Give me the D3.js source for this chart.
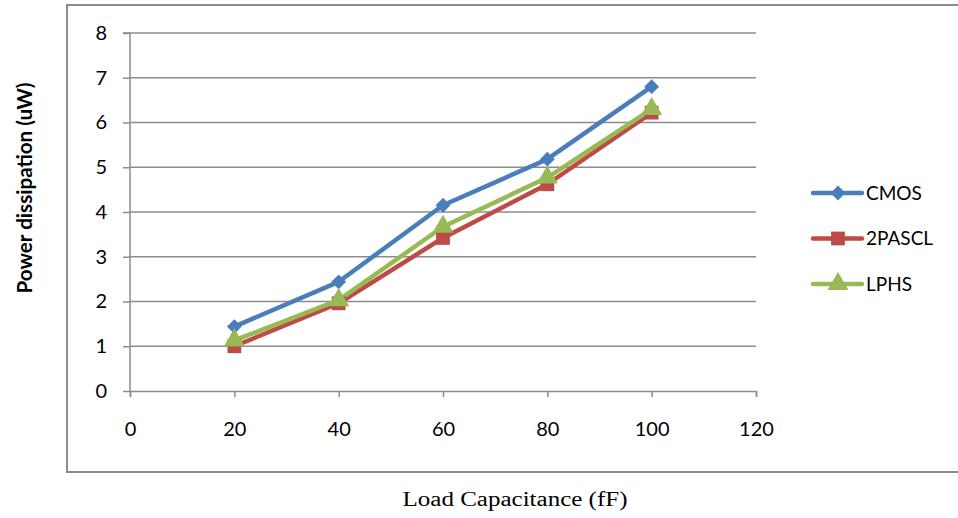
<!DOCTYPE html>
<html>
<head>
<meta charset="utf-8">
<script src="https://cdn.jsdelivr.net/npm/d3@7"></script>
<style>
  body { margin: 0; background: #fff; }
  svg { display: block; }
</style>
</head>
<body>
<svg width="958" height="518"></svg>
<script>
// data
const loads = [20, 40, 60, 80, 100];
const cmos = [1.44, 2.44, 4.15, 5.18, 6.8];
const pascl = [1.0, 1.96, 3.42, 4.62, 6.22];
const lphs = [1.13, 2.03, 3.67, 4.77, 6.3];
const yTicks = [0, 1, 2, 3, 4, 5, 6, 7, 8];
const xTicks = [0, 20, 40, 60, 80, 100, 120];

// diamond = square turned 45deg, like the Excel marker
const seriesList = [
  { name: 'CMOS', values: cmos, color: '#4A7EBB', shape: d3.symbolSquare, size: 110, rot: 45 },
  { name: '2PASCL', values: pascl, color: '#BE4B48', shape: d3.symbolSquare, size: 190, rot: 0 },
  { name: 'LPHS', values: lphs, color: '#98B954', shape: d3.symbolTriangle, size: 190, rot: 0 }
];

const svg = d3.select('svg');
const font = 'Lato, "Open Sans", sans-serif';

// outer frame
svg.append('rect')
  .attr('x', 67).attr('y', 5)
  .attr('width', 900).attr('height', 467)
  .attr('fill', 'none')
  .attr('stroke', '#8c8c8c')
  .attr('stroke-width', 2);

const x = d3.scaleLinear().domain([0, 120]).range([130, 756]);
const y = d3.scaleLinear().domain([0, 8]).range([391, 33]);

// grid
svg.append('g')
  .selectAll('line')
  .data(yTicks.slice(1))
  .enter()
  .append('line')
  .attr('x1', x(0)).attr('x2', x(120))
  .attr('y1', d => y(d)).attr('y2', d => y(d))
  .attr('stroke', '#8c8c8c')
  .attr('stroke-width', 1.5);

// axes
const yAxis = svg.append('g')
  .attr('transform', `translate(${x(0)},0)`)
  .call(d3.axisLeft(y).tickValues(yTicks).tickSize(7).tickPadding(16));

const xAxis = svg.append('g')
  .attr('transform', `translate(0,${y(0)})`)
  .call(d3.axisBottom(x).tickValues(xTicks).tickSize(6).tickSizeOuter(6).tickPadding(25));

[xAxis, yAxis].forEach(a => {
  a.select('.domain').attr('stroke', '#8c8c8c').attr('stroke-width', 1.5);
  a.selectAll('.tick line').attr('stroke', '#8c8c8c').attr('stroke-width', 1.5);
  a.selectAll('text')
    .style('font-family', font)
    .style('font-size', '20px')
    .attr('fill', '#000');
});
yAxis.select('.domain').attr('d', `M-7,${y(8)}H0V${y(0)}`);

// lines and markers
const line = d3.line()
  .x((d, i) => x(loads[i]))
  .y(d => y(d));

seriesList.forEach(s => {
  svg.append('path')
    .datum(s.values)
    .attr('d', line)
    .attr('fill', 'none')
    .attr('stroke', s.color)
    .attr('stroke-width', 4.5)
    .attr('stroke-linejoin', 'round');
});

seriesList.forEach(s => {
  svg.append('g')
    .selectAll('path')
    .data(s.values)
    .enter()
    .append('path')
    .attr('transform', (d, i) => `translate(${x(loads[i])},${y(d)}) rotate(${s.rot})`)
    .attr('d', d3.symbol().type(s.shape).size(s.size))
    .attr('fill', s.color);
});

// legend
const legend = svg.append('g');
seriesList.forEach((s, i) => {
  const ly = 193 + i * 45.5;
  legend.append('line')
    .attr('x1', 813).attr('x2', 862)
    .attr('y1', ly).attr('y2', ly)
    .attr('stroke', s.color)
    .attr('stroke-width', 4.5)
    .attr('stroke-linecap', 'round');
  legend.append('path')
    .attr('transform', `translate(838,${ly}) rotate(${s.rot})`)
    .attr('d', d3.symbol().type(s.shape).size(s.size))
    .attr('fill', s.color);
  legend.append('text')
    .attr('x', 866).attr('y', ly)
    .attr('dy', '0.35em')
    .style('font-family', font)
    .style('font-size', '19px')
    .text(s.name);
});

// axis titles
svg.append('text')
  .attr('transform', 'translate(32,188) rotate(-90)')
  .attr('text-anchor', 'middle')
  .attr('textLength', 211)
  .attr('lengthAdjust', 'spacingAndGlyphs')
  .style('font-family', font)
  .style('font-size', '20px')
  .style('font-weight', 'bold')
  .text('Power dissipation (uW)');

svg.append('text')
  .attr('x', 515).attr('y', 506)
  .attr('text-anchor', 'middle')
  .attr('textLength', 225)
  .attr('lengthAdjust', 'spacingAndGlyphs')
  .style('font-family', '"Liberation Serif", "Times New Roman", serif')
  .style('font-size', '20px')
  .text('Load Capacitance (fF)');
</script>
</body>
</html>
